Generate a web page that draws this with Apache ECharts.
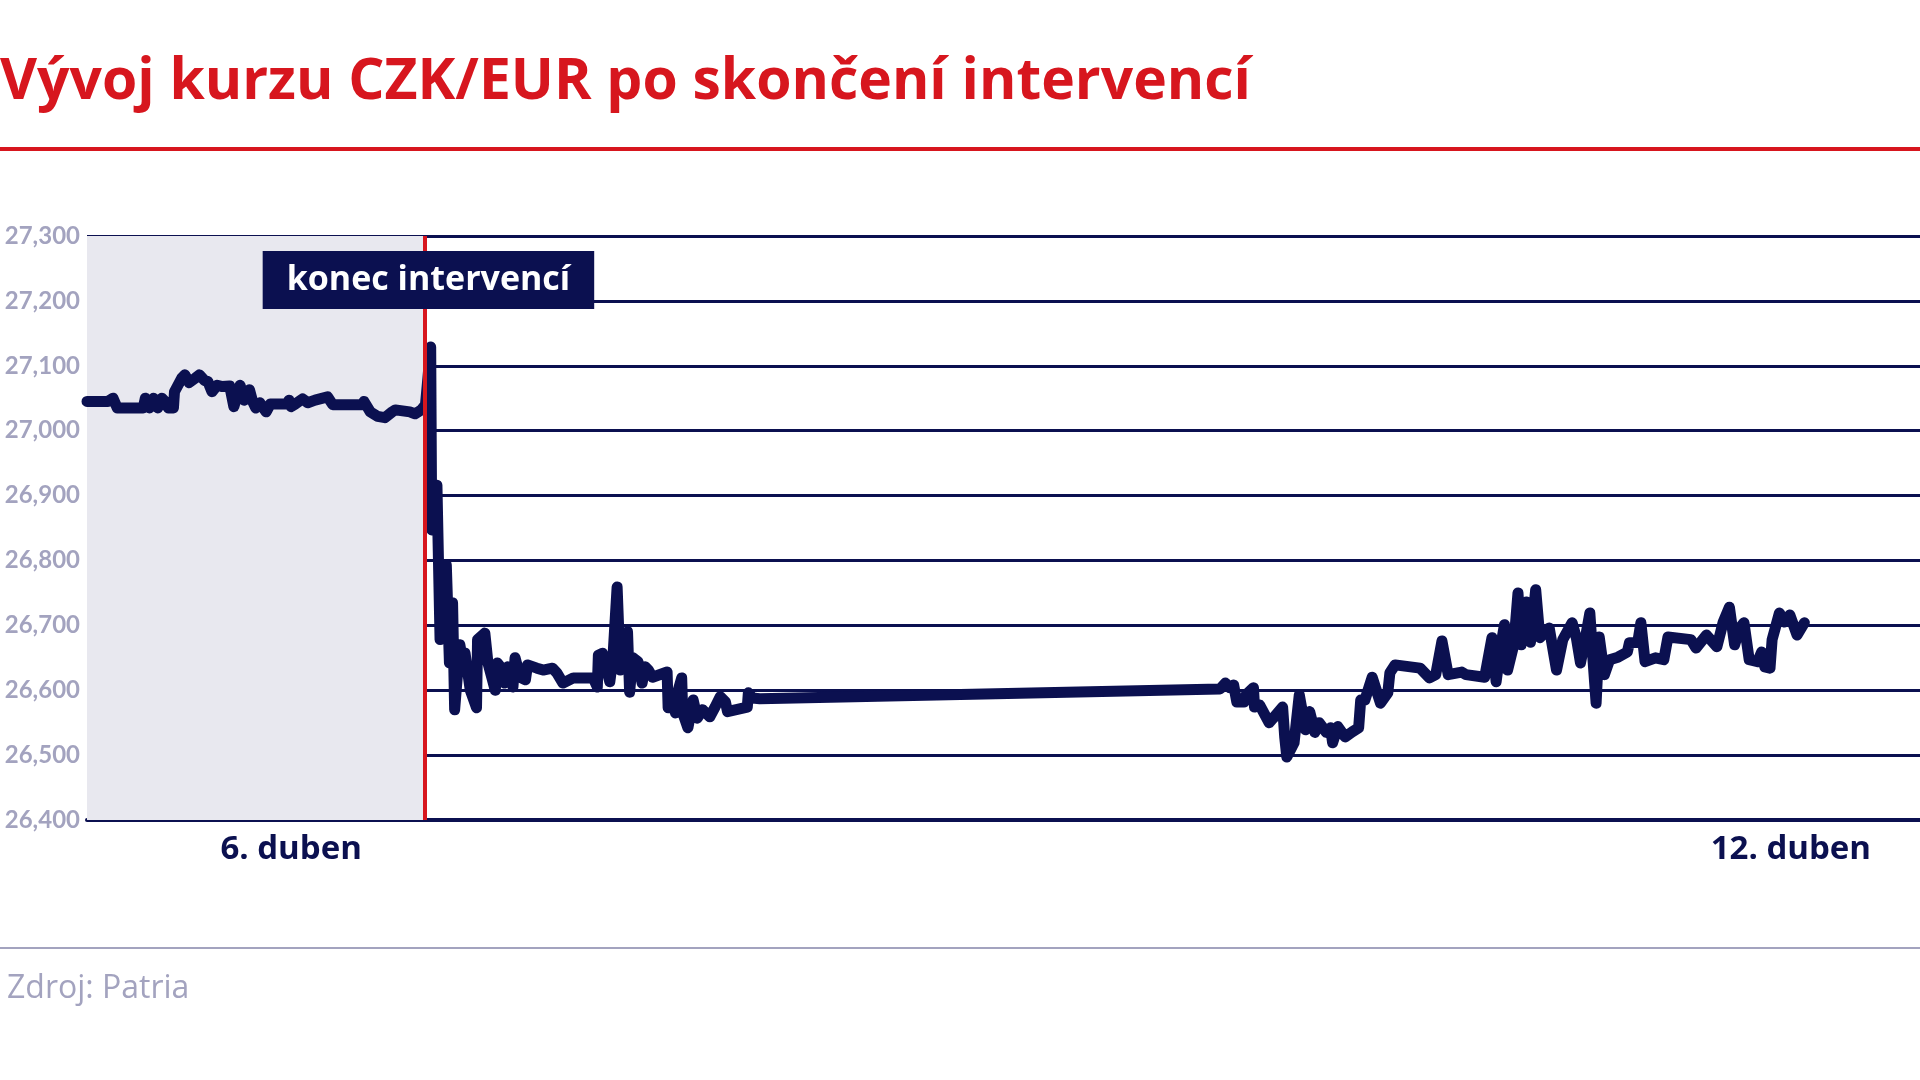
<!DOCTYPE html>
<html>
<head>
<meta charset="utf-8">
<script src="https://cdn.jsdelivr.net/npm/echarts@6/dist/echarts.min.js"></script>
<style>
  html, body { margin: 0; padding: 0; background: #fff; }
  #chart { width: 1920px; height: 1080px; }
</style>
</head>
<body>
<div id="chart"></div>
<script>
// hodiny od levého okraje grafu (cca 5. 4. odpoledne)
const hours = [
  0, 2.0, 2.5, 2.9, 5.4, 5.6, 6.0, 6.4, 6.8, 7.2, 7.5, 7.8, 8.3, 8.4, 9.1, 9.4, 9.8, 10.4, 10.8, 11.3,
  11.6, 12.0, 12.5, 13.0, 13.7, 14.1, 14.7, 15.1, 15.6, 15.9, 16.2, 16.6, 17.2, 17.6, 19.2, 19.4, 19.6, 20.0,
  20.7, 21.2, 21.9, 23.1, 23.6, 26.4, 26.6, 27.2, 27.9, 28.6, 29.3, 29.6, 31.0, 31.5, 32.1,
  32.5, 33.0, 33.1, 33.3, 33.5, 33.6, 33.9, 34.5, 34.8, 35.1, 35.3, 35.8, 36.1, 36.3, 36.8, 37.4, 37.5,
  38.2, 38.5, 39.2, 39.4, 39.8, 40.1, 40.4, 40.9, 41.1, 41.6, 42.1, 42.3, 43.2, 43.8, 44.7, 45.1, 45.7,
  46.7, 48.6, 49.0, 49.1, 49.5, 50.2, 50.5, 50.9, 51.2, 51.5, 51.9, 52.1, 52.4, 52.9, 53.3, 53.6, 53.9,
  54.3, 55.7, 55.8, 56.2, 56.5, 56.7, 57.1, 57.2, 57.7, 58.2, 58.6, 59.1, 59.8, 60.3, 60.8, 61.3, 61.5,
  63.4, 63.5, 63.9, 64.6,
  108.8, 109.3, 109.7, 110.1, 110.4, 111.1, 111.3, 112.0, 112.1, 112.6, 113.5, 113.9, 114.8, 115.0, 115.2,
  115.9, 116.4, 117.0, 117.4, 117.9, 118.3, 119.0, 119.4, 119.6, 120.1, 120.8, 121.5, 122.1, 122.3, 122.7,
  123.4, 124.2, 124.9, 125.1, 125.6, 128.0, 128.9, 129.5, 130.1, 130.7, 132.0, 132.4, 134.2, 134.9, 135.3,
  135.8, 136.1, 136.4, 137.0, 137.4, 137.7, 138.2, 138.6, 139.1, 139.5, 140.4, 141.1, 141.7, 142.6, 143.0,
  143.4, 143.8, 144.3, 144.6, 144.9, 145.2, 145.7, 146.2, 147.0, 147.9, 148.1, 148.9, 149.2, 149.6, 150.6,
  151.4, 151.8, 154.0, 154.5, 155.5, 156.5, 157.1, 157.7, 158.2, 158.7, 159.1, 159.6, 160.4, 160.8, 161.1,
  161.6, 161.8, 162.5, 163.0, 163.5, 164.2, 164.9
];
const rates = [
  27.045, 27.045, 27.050, 27.035, 27.035, 27.050, 27.035, 27.050, 27.035, 27.050, 27.045, 27.035, 27.035, 27.060, 27.081, 27.086, 27.074, 27.081, 27.086, 27.077,
  27.076, 27.060, 27.070, 27.068, 27.069, 27.037, 27.070, 27.047, 27.063, 27.045, 27.035, 27.043, 27.029, 27.041, 27.041, 27.047, 27.037, 27.041,
  27.049, 27.043, 27.047, 27.052, 27.040, 27.040, 27.045, 27.029, 27.022, 27.020, 27.029, 27.032, 27.029, 27.026, 27.032,
  27.040, 27.129, 26.847, 26.916, 26.847, 26.916, 26.678, 26.793, 26.642, 26.735, 26.570, 26.670, 26.642, 26.657, 26.600, 26.573, 26.678,
  26.688, 26.642, 26.600, 26.642, 26.634, 26.611, 26.636, 26.605, 26.650, 26.620, 26.616, 26.639, 26.634, 26.631, 26.634, 26.627, 26.611,
  26.619, 26.619, 26.605, 26.654, 26.657, 26.613, 26.651, 26.759, 26.631, 26.636, 26.690, 26.597, 26.650, 26.644, 26.611, 26.636, 26.631,
  26.620, 26.628, 26.573, 26.590, 26.565, 26.596, 26.619, 26.565, 26.542, 26.585, 26.557, 26.570, 26.559, 26.574, 26.590, 26.582, 26.567,
  26.574, 26.596, 26.588, 26.587,
  26.602, 26.611, 26.604, 26.608, 26.582, 26.582, 26.593, 26.604, 26.574, 26.577, 26.550, 26.557, 26.574, 26.528, 26.497,
  26.519, 26.593, 26.539, 26.567, 26.535, 26.550, 26.535, 26.542, 26.519, 26.544, 26.528, 26.536, 26.542, 26.585, 26.585,
  26.620, 26.580, 26.596, 26.627, 26.639, 26.634, 26.619, 26.624, 26.676, 26.624, 26.628, 26.624, 26.620, 26.681, 26.613,
  26.673, 26.701, 26.631, 26.670, 26.750, 26.670, 26.736, 26.674, 26.755, 26.681, 26.696, 26.631, 26.678, 26.704, 26.681,
  26.642, 26.674, 26.719, 26.647, 26.580, 26.682, 26.624, 26.647, 26.651, 26.659, 26.673, 26.674, 26.704, 26.644, 26.650,
  26.647, 26.682, 26.678, 26.665, 26.685, 26.667, 26.705, 26.728, 26.670, 26.696, 26.704, 26.647, 26.644, 26.659, 26.636,
  26.634, 26.678, 26.719, 26.705, 26.716, 26.685, 26.704
];
const dayTicks = [19.6, 163.6];
const dayLabels = ['6. duben', '12. duben'];
const interventionEnd = 32.4;

const NAVY = '#0b1050';
const RED = '#d7161e';
const GREY = '#a3a3bf';

const chart = echarts.init(document.getElementById('chart'), null, { renderer: 'canvas' });

chart.setOption({
  animation: false,
  backgroundColor: '#fff',
  title: [
    {
      text: 'Vývoj kurzu CZK/EUR po skončení intervencí',
      left: 0, top: 54, padding: 0,
      textStyle: { fontFamily: 'Open Sans', fontWeight: 'bold', fontSize: 57, color: RED }
    },
    {
      text: 'Zdroj: Patria',
      left: 7, top: 973, padding: 0,
      textStyle: { fontFamily: 'Open Sans', fontWeight: 'normal', fontSize: 32, color: GREY }
    }
  ],
  graphic: [
    { type: 'rect', shape: { x: 0, y: 147, width: 1920, height: 4 }, style: { fill: RED } },
    { type: 'rect', shape: { x: 0, y: 947, width: 1920, height: 2 }, style: { fill: GREY } }
  ],
  grid: { left: 87, right: 0, top: 236, bottom: 260 },
  xAxis: {
    type: 'value',
    min: 0, max: 176,
    splitLine: { show: false },
    axisTick: { show: false },
    axisLine: { show: true, onZero: false, lineStyle: { color: NAVY, width: 4 } },
    axisLabel: {
      customValues: dayTicks,
      formatter: v => dayLabels[dayTicks.indexOf(v)] || '',
      margin: 13,
      fontFamily: 'Open Sans', fontWeight: 'bold', fontSize: 33, color: NAVY
    }
  },
  yAxis: {
    type: 'value',
    min: 26.4, max: 27.3, interval: 0.1,
    axisLine: { show: false },
    axisTick: { show: false },
    splitLine: { lineStyle: { color: NAVY, width: 3 } },
    axisLabel: {
      margin: 7,
      formatter: v => v.toFixed(3).replace('.', ','),
      fontFamily: 'Lato', fontWeight: 'bold', fontSize: 24, color: GREY
    }
  },
  series: [
    {
      // šedé pozadí období intervencí, pod mřížkou
      type: 'line',
      z: -1,
      data: [],
      markArea: {
        silent: true,
        itemStyle: { color: '#e8e8ef' },
        data: [[{ xAxis: 0 }, { xAxis: interventionEnd }]]
      }
    },
    {
      name: 'CZK/EUR',
      type: 'line',
      showSymbol: false,
      data: hours.map((h, i) => [h, rates[i]]),
      lineStyle: { color: NAVY, width: 11, cap: 'round', join: 'round' },
      markLine: {
        silent: true,
        symbol: 'none',
        label: { show: false },
        lineStyle: { color: RED, width: 4, type: 'solid' },
        data: [{ xAxis: interventionEnd }]
      },
      markPoint: {
        silent: true,
        symbol: 'rect',
        symbolSize: 0,
        data: [{ coord: [interventionEnd, 27.232] }],
        label: {
          show: true,
          position: 'inside',
          offset: [4, 0],
          formatter: 'konec intervencí',
          backgroundColor: NAVY,
          padding: [10, 24],
          lineHeight: 38,
          color: '#fff',
          fontFamily: 'Open Sans', fontWeight: 'bold', fontSize: 34
        }
      }
    }
  ]
});
</script>
</body>
</html>
